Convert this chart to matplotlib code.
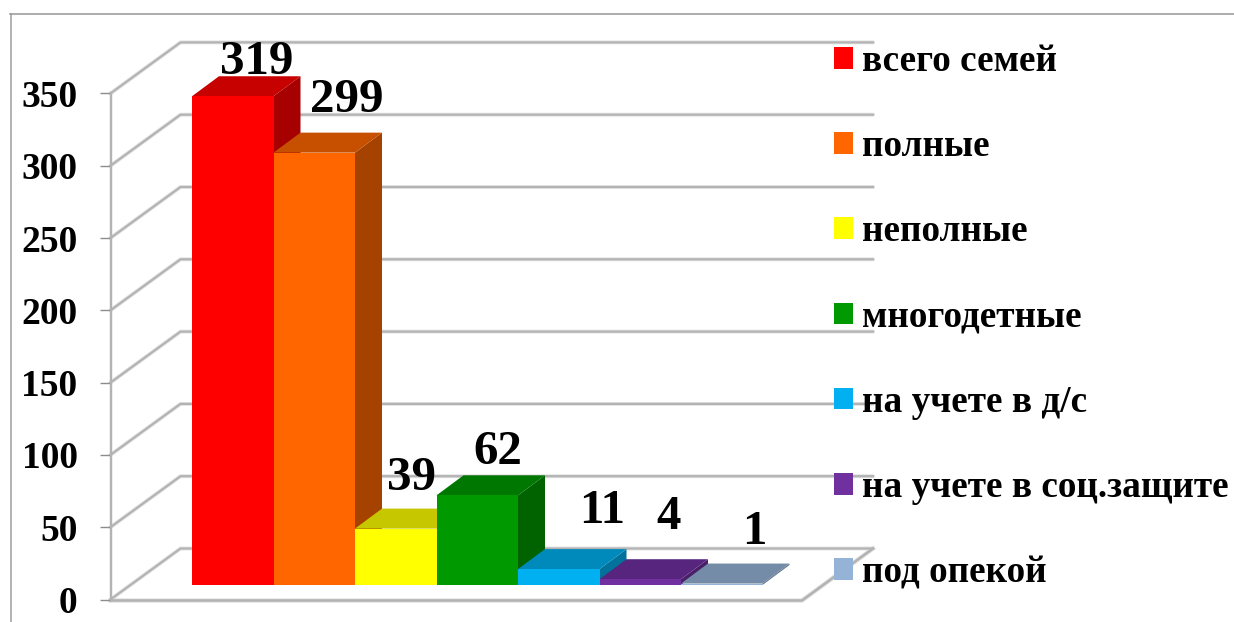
import matplotlib
matplotlib.use("Agg")
import matplotlib.pyplot as plt
from matplotlib.patches import Patch
import matplotlib.colors as mc

categories = ["всего семей", "полные", "неполные", "многодетные",
              "на учете в д/с", "на учете в соц.защите", "под опекой"]
bar_heights = [338, 299, 39, 62, 11, 4, 1]
value_labels = ["319", "299", "39", "62", "11", "4", "1"]
colors = ["#FF0000", "#FF6600", "#FFFF00", "#009900", "#00B0F0", "#7030A0", "#95B3D7"]
y_ticks = [0, 50, 100, 150, 200, 250, 300, 350]

W, H = 1234, 622
PX_PER_VAL = 1.446
PX_PER_CAT = 81.5
X0_PX = 192
Y0_PX = 599.5
SERIF = "Liberation Serif"
PT = 72 / 100

def xd(px):
    return (px - X0_PX) / PX_PER_CAT
def dxd(px):
    return px / PX_PER_CAT
def dyd(px):
    return px / PX_PER_VAL
def yd(px):
    return (Y0_PX - px) / PX_PER_VAL

fig = plt.figure(figsize=(W / 100, H / 100), dpi=100)
ax = fig.add_axes([0, 0, 1, 1])
ax.set_xlim(xd(0), xd(W))
ax.set_ylim(yd(H), yd(0))
ax.patch.set_alpha(0)
for s in ("top", "right", "bottom"):
    ax.spines[s].set_visible(False)

# outer frame
ax.plot([xd(10.5), xd(10.5)], [yd(H), yd(13.5)], color="#b4b4b4", lw=2 * PT, zorder=1)
ax.plot([xd(10), xd(W)], [yd(13.5), yd(13.5)], color="#9a9a9a", lw=1.6 * PT, zorder=1)

# walls and floor
GRID = "#b3b3b3"
wall_dx, wall_dy = 70, 51
left, back, right = 110.5, 180.5, 873
for v in y_ticks:
    xs = [xd(left), xd(back), xd(right)]
    ys = [v, v + dyd(wall_dy), v + dyd(wall_dy)]
    ax.plot(xs, ys, color="#e4e4e4", lw=4 * PT, zorder=1, solid_capstyle="round")
    ax.plot(xs, ys, color=GRID, lw=2.2 * PT, zorder=1.1)
ax.plot([xd(left), xd(802), xd(right)], [dyd(-1), dyd(-1), dyd(wall_dy)],
        color="#e4e4e4", lw=4.5 * PT, zorder=1)
ax.plot([xd(left), xd(802), xd(right)], [dyd(-1), dyd(-1), dyd(wall_dy)],
        color=GRID, lw=2.6 * PT, zorder=1.1)

# y axis
ax.spines["left"].set_position(("data", xd(left)))
ax.spines["left"].set_bounds(0, 350)
ax.spines["left"].set_color(GRID)
ax.spines["left"].set_linewidth(2.4 * PT)
ax.set_xticks([])
ax.set_yticks(y_ticks)
ax.tick_params(axis="y", length=11 * PT, width=1.4 * PT, color="#8c8c8c", pad=22 * PT)
for t in ax.get_yticklabels():
    t.set_family(SERIF)
    t.set_fontweight("bold")
    t.set_fontsize(37.5 * PT)
    t.set_color("black")

# bars
base = dyd(14.5)
bar_dx, bar_dy = dxd(27), dyd(20)
def shade(c, f):
    r, g, b = mc.to_rgb(c)
    return (r * f, g * f, b * f)

for i, (h, c) in enumerate(zip(bar_heights, colors)):
    z = 3 + i
    ax.fill([i + 1, i + 1 + bar_dx, i + 1 + bar_dx, i + 1],
            [base, base + bar_dy, base + h + bar_dy, base + h],
            color=shade(c, 0.65), lw=0, zorder=z)
    ax.fill([i, i + 1, i + 1 + bar_dx, i + bar_dx],
            [base + h, base + h, base + h + bar_dy, base + h + bar_dy],
            color=shade(c, 0.78), lw=0, zorder=z)
    ax.bar(i, h, width=1, bottom=base, align="edge", color=c, lw=0, zorder=z + 0.5)

# value labels: offset of label centre from the top of each bar, pixels
label_offsets = [(24, 38), (33, 57), (16, 55), (21, 47), (43, 62), (28, 66), (33, 56)]
for i, (h, lab, (ox, oy)) in enumerate(zip(bar_heights, value_labels, label_offsets)):
    ax.annotate(lab, xy=(i + 0.5, base + h), xytext=(ox * PT, (oy - 16) * PT),
                textcoords="offset points", ha="center", va="baseline",
                family=SERIF, fontweight="bold", fontsize=49 * PT, color="black", zorder=20)

# legend
handles = [Patch(facecolor=c, edgecolor="none", label=n) for c, n in zip(colors, categories)]
fs = 37.2 * PT
row_h = 35.1
leg = ax.legend(handles=handles, loc="upper left",
                bbox_to_anchor=(834 / W, 1 - 44 / H), bbox_transform=fig.transFigure,
                frameon=False, prop={"family": SERIF, "weight": "bold", "size": fs},
                handlelength=19 * PT / fs, handleheight=19 * PT / fs,
                handletextpad=9 * PT / fs, labelspacing=(85.3 - row_h) * PT / fs,
                borderpad=0, borderaxespad=0)
leg.set_zorder(30)

fig.savefig("out.png", dpi=100)
